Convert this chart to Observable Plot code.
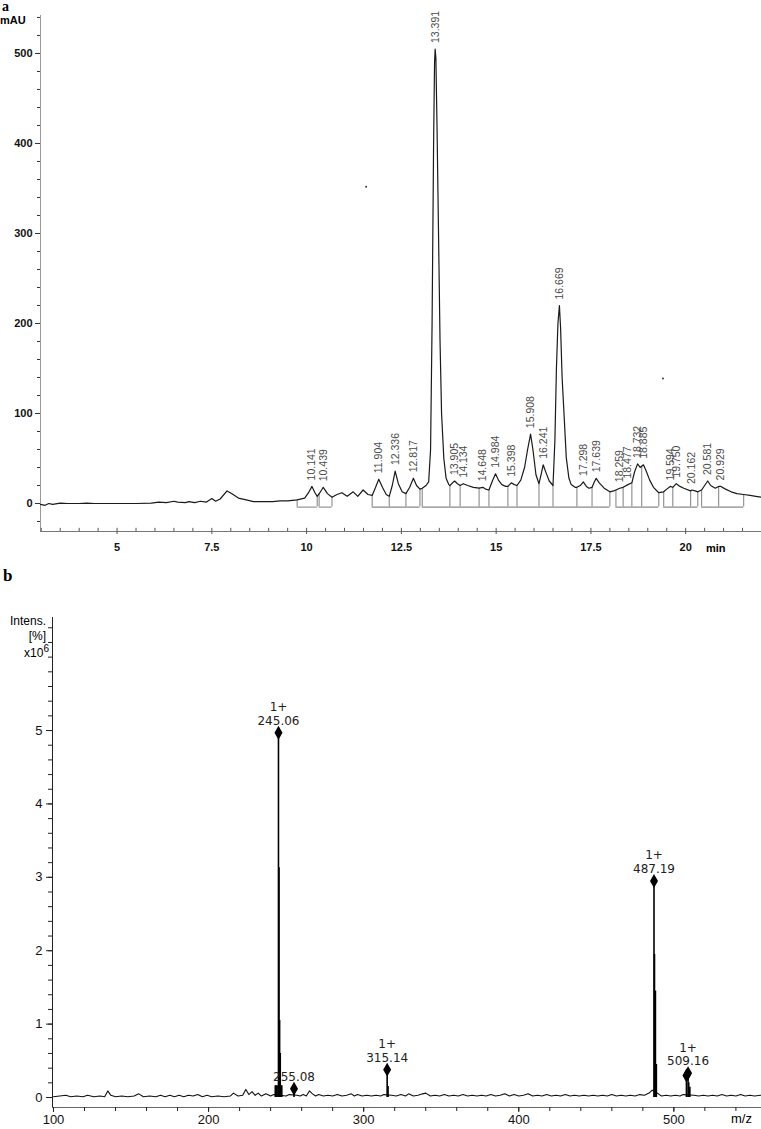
<!DOCTYPE html>
<html>
<head>
<meta charset="utf-8">
<script src="https://cdn.jsdelivr.net/npm/d3@7"></script>
<script src="https://cdn.jsdelivr.net/npm/@observablehq/plot@0.6"></script>
<style>
  html, body { margin: 0; padding: 0; background: #fff; }
  #wrap { position: relative; width: 761px; height: 1129px; overflow: hidden; font-family: "Liberation Sans", Arial, sans-serif; }
  .abs { position: absolute; white-space: nowrap; line-height: 1; }
  .panel { position: absolute; left: 0; }
</style>
</head>
<body>
<div id="wrap">
  <div id="top" class="panel" style="top:0"></div>
  <div id="bottom" class="panel" style="top:560px"></div>
  <div class="abs" style="left:2px;top:0px;font:bold 14px 'Liberation Serif',serif;line-height:14px;">a</div>
  <div class="abs" style="left:3px;top:566px;font:bold 17px 'Liberation Serif',serif;">b</div>
  <div class="abs" style="left:0px;top:14px;font:bold 11px 'Liberation Sans',Arial,sans-serif;">mAU</div>
  <div class="abs" style="left:706px;top:542px;font:bold 11px 'Liberation Sans',Arial,sans-serif;">min</div>
  <div class="abs" style="right:715px;top:614px;font:12px 'Liberation Sans',Arial,sans-serif;text-align:right;">Intens.</div>
  <div class="abs" style="right:715px;top:629px;font:12px 'Liberation Sans',Arial,sans-serif;text-align:right;">[%]</div>
  <div class="abs" style="right:712px;top:643px;font:12px 'Liberation Sans',Arial,sans-serif;text-align:right;">x10<sup style="font-size:10px;vertical-align:5px;">6</sup></div>
  <div class="abs" style="left:731px;top:1111px;font:13px 'Liberation Sans',Arial,sans-serif;">m/z</div>
</div>
<script>
// ---------- Panel a: HPLC chromatogram ----------
const chromTime = [2.98,3.1,3.2,3.3,3.5,3.7,4.0,4.2,4.4,5.0,5.5,5.9,6.1,6.3,6.5,6.6,6.8,6.9,7.05,7.2,7.35,7.5,7.6,7.72,7.9,8.02,8.2,8.35,8.6,8.9,9.1,9.3,9.5,9.75,9.95,10.05,10.141,10.22,10.28,10.35,10.439,10.55,10.67,10.8,10.93,11.07,11.23,11.35,11.49,11.62,11.73,11.82,11.904,12.0,12.1,12.18,12.26,12.336,12.42,12.52,12.62,12.72,12.817,12.9,12.99,13.05,13.15,13.22,13.27,13.31,13.35,13.375,13.391,13.41,13.44,13.48,13.52,13.56,13.62,13.68,13.75,13.78,13.85,13.905,13.98,14.05,14.134,14.25,14.4,14.55,14.648,14.72,14.81,14.9,14.984,15.06,15.15,15.25,15.31,15.398,15.48,15.55,15.65,15.75,15.83,15.908,15.97,16.05,16.13,16.19,16.241,16.3,16.4,16.5,16.55,16.59,16.63,16.669,16.7,16.74,16.79,16.85,16.92,16.98,17.08,17.13,17.22,17.298,17.38,17.45,17.53,17.58,17.639,17.72,17.85,18.0,18.1,18.16,18.259,18.35,18.477,18.58,18.65,18.732,18.8,18.885,18.95,19.05,19.15,19.29,19.42,19.5,19.594,19.66,19.75,19.85,19.95,20.13,20.162,20.25,20.32,20.42,20.5,20.581,20.66,20.78,20.87,20.929,21.05,21.2,21.35,21.53,21.7,21.85,22.0];
const chromAbs  = [-1,-2,0,-1,0.5,0,0,0.5,0,0,0,0.5,1.5,1,2.5,1.5,1,2,1,2.5,1.5,5.5,2.5,5,14,11,6,4.5,2,2,2,3,3,4,6,12,19,12,8,12,18,11,7,10,12,8,13,8,15,10,9,18,27,18,10,8,20,36,22,13,11,18,28,20,16,17,20,24,60,200,400,490,505,495,420,300,180,100,50,28,21,20,23,25,22,20,22,20,18,17,18,16,15,25,33,26,21,19,19,23,21,20,26,40,60,77,60,32,22,33,43,36,25,20,70,150,200,220,195,140,100,51,28,21,18,18,20,24,19,17,18,23,28,23,17,13,14,15,17,18,21,23,35,44,40,43,37,26,18,12,13,16,19,18,22,19,17,14,15,14,13,15,20,25,20,17,19,19,16,13,11,10,9,8,7];

const peakTimes  = [10.141,10.439,11.904,12.336,12.817,13.391,13.905,14.134,14.648,14.984,15.398,15.908,16.241,16.669,17.298,17.639,18.259,18.477,18.732,18.885,19.594,19.75,20.162,20.581,20.929];
const peakLabels = ["10.141","10.439","11.904","12.336","12.817","13.391","13.905","14.134","14.648","14.984","15.398","15.908","16.241","16.669","17.298","17.639","18.259","18.477","18.732","18.885","19.594","19.750","20.162","20.581","20.929"];

const segStart = [9.75,10.33,11.73,13.05,18.16,19.42,20.42];
const segEnd   = [10.28,10.67,12.99,18.00,19.29,20.32,21.53];
const dropTimes = [9.75,10.28,10.33,10.67,11.73,12.18,12.62,12.99,13.05,13.78,14.05,14.55,14.81,15.31,15.55,16.13,16.50,17.13,17.53,18.00,18.16,18.35,18.58,18.84,19.29,19.42,19.66,20.13,20.32,20.42,20.87,21.53];
const baseLevel = -4;

const strayTime = [11.57, 19.4];
const strayAbs  = [352, 139];

const yMajorA = [0,100,200,300,400,500];
const yMinorA = [-20,0,20,40,60,80,100,120,140,160,180,200,220,240,260,280,300,320,340,360,380,400,420,440,460,480,500,520,540];
const xMajorA = [5,7.5,10,12.5,15,17.5,20];
const xMajorLabelsA = ["5","7.5","10","12.5","15","17.5","20"];
const xMinorA = [3,3.5,4,4.5,5,5.5,6,6.5,7,7.5,8,8.5,9,9.5,10,10.5,11,11.5,12,12.5,13,13.5,14,14.5,15,15.5,16,16.5,17,17.5,18,18.5,19,19.5,20,20.5,21,21.5];

// ---------- Panel b: mass spectrum ----------
const noiseMz  = [100,104,108,111,115,119,122,126,130,133,135,137,140,144,148,152,155,158,162,166,169,172,175,178,181,184,187,190,193,196,199,202,206,210,214,216,219,222,224,226,228,230,232,234,237,240,242,250,252,257,259,261,263,265,267,269,271,274,277,280,283,286,289,292,294,296,299,302,305,308,311,313,318,321,324,327,329,332,335,338,340,343,346,349,352,355,358,361,364,367,370,373,376,379,382,385,388,391,394,397,400,403,406,409,412,415,418,421,424,427,430,433,436,439,442,445,448,451,454,457,460,463,466,469,472,475,478,481,484,486,490,492,495,498,501,504,506,513,516,519,522,525,528,531,534,537,540,543,546,549,552,556];
const noiseInt = [0.01,0.02,0.03,0.01,0.02,0.01,0.03,0.01,0.02,0.01,0.09,0.03,0.01,0.02,0.01,0.02,0.05,0.01,0.02,0.01,0.03,0.01,0.03,0.01,0.03,0.01,0.03,0.02,0.04,0.01,0.03,0.01,0.02,0.01,0.02,0.06,0.02,0.03,0.11,0.04,0.08,0.03,0.06,0.02,0.05,0.02,0.04,0.02,0.04,0.03,0.02,0.04,0.02,0.09,0.05,0.02,0.04,0.02,0.03,0.02,0.04,0.02,0.03,0.05,0.02,0.04,0.02,0.03,0.02,0.03,0.02,0.04,0.03,0.02,0.04,0.02,0.05,0.02,0.03,0.05,0.06,0.02,0.03,0.02,0.04,0.02,0.03,0.02,0.04,0.02,0.03,0.02,0.03,0.02,0.04,0.02,0.03,0.05,0.02,0.04,0.02,0.03,0.05,0.02,0.03,0.02,0.04,0.02,0.03,0.02,0.04,0.02,0.03,0.02,0.03,0.02,0.03,0.02,0.03,0.02,0.04,0.02,0.03,0.02,0.03,0.02,0.04,0.03,0.06,0.10,0.05,0.02,0.03,0.02,0.03,0.02,0.04,0.03,0.02,0.03,0.02,0.03,0.02,0.04,0.02,0.03,0.02,0.04,0.02,0.03,0.02,0.03];

const stickMz  = [243.0,243.6,244.2,245.06,245.4,245.8,246.2,246.6,247.2,255.08,315.14,315.7,487.19,487.5,488.1,488.7,508.1,509.16,509.6,510.3];
const stickInt = [0.16,0.16,0.16,4.97,3.13,1.05,0.6,0.16,0.16,0.12,0.38,0.15,2.95,1.95,1.45,0.45,0.30,0.33,0.2,0.14];

const labelMz     = [245.06,255.08,315.14,487.19,509.16];
const labelInt    = [4.97,0.12,0.38,2.95,0.33];
const labelCharge = ["1+","","1+","1+","1+"];
const labelText   = ["245.06","255.08","315.14","487.19","509.16"];
const extraDiamondMz = [508.1];
const extraDiamondInt = [0.30];

const yMajorB = [0,1,2,3,4,5];
const yMinorB = [0,0.2,0.4,0.6,0.8,1,1.2,1.4,1.6,1.8,2,2.2,2.4,2.6,2.8,3,3.2,3.4,3.6,3.8,4,4.2,4.4,4.6,4.8,5,5.2,5.4,5.6,5.8,6,6.2,6.4];
const xMajorB = [100,200,300,400,500];
const xMinorB = [100,120,140,160,180,200,220,240,260,280,300,320,340,360,380,400,420,440,460,480,500,520,540];

// ---------- build panel a ----------
const chrom = chromTime.map((t, i) => ({t, v: chromAbs[i]}));
const traceAt = d3.scaleLinear().domain(chromTime).range(chromAbs);
const peaks = peakTimes.map((t, i) => ({t, v: traceAt(t), label: peakLabels[i]}));
const segs = segStart.map((s, i) => ({s, e: segEnd[i]}));
const drops = dropTimes.map(t => ({t, top: traceAt(t)}));
const strays = strayTime.map((t, i) => ({t, v: strayAbs[i]}));

const xDomA = [2.98, 22];
const yDomA = [-31.1, 542.2];

const plotA = Plot.plot({
  width: 761, height: 560,
  marginLeft: 40, marginRight: 0, marginTop: 15, marginBottom: 29,
  style: {fontFamily: "'Liberation Sans', Arial, sans-serif", background: "transparent"},
  x: {domain: xDomA, axis: null, label: null},
  y: {domain: yDomA, axis: null, label: null},
  marks: [
    Plot.ruleX([xDomA[0]], {stroke: "#999", strokeWidth: 1}),
    Plot.axisY(yMinorA, {tickSize: 3, tickFormat: () => "", stroke: "#333", label: null}),
    Plot.axisY(yMajorA, {tickSize: 5, tickPadding: 3, tickFormat: d => String(d), fontSize: 11, fontWeight: "bold", stroke: "#333", fill: "#111", label: null}),
    Plot.ruleY([yDomA[0]], {stroke: "#777", strokeWidth: 1}),
    Plot.ruleX(xMinorA, {y1: yDomA[0], y2: yDomA[0] + 3.5, stroke: "#555"}),
    Plot.axisX(xMajorA, {tickSize: 3, tickPadding: 9, tickFormat: (d, i) => xMajorLabelsA[i], fontSize: 11, fontWeight: "bold", stroke: "#555", fill: "#111", label: null}),
    Plot.ruleY(segs, {y: () => baseLevel, x1: "s", x2: "e", stroke: "#8a8a8a", strokeWidth: 1.1}),
    Plot.ruleX(drops, {x: "t", y1: () => baseLevel, y2: "top", stroke: "#8a8a8a", strokeWidth: 1.1}),
    Plot.line(chrom, {x: "t", y: "v", stroke: "#1a1a1a", strokeWidth: 1.2}),
    Plot.dot(strays, {x: "t", y: "v", r: 1, fill: "#333", stroke: null}),
    Plot.text(peaks, {x: "t", y: "v", text: "label", rotate: -90, textAnchor: "start", dy: -6, fontSize: 10.5, fill: "#4a4a4a"})
  ]
});
document.getElementById("top").appendChild(plotA);

// ---------- build panel b ----------
const noise = noiseMz.map((m, i) => ({m, v: noiseInt[i]}));
const sticks = stickMz.map((m, i) => ({m, v: stickInt[i]}));
const labels = labelMz.map((m, i) => ({m, v: labelInt[i], txt: labelCharge[i] ? labelCharge[i] + "\n" + labelText[i] : labelText[i]}));
const extra = extraDiamondMz.map((m, i) => ({m, v: extraDiamondInt[i]}));

const xDomB = [99.36, 556.5];
const yDomB = [-0.136, 6.54];

const plotB = Plot.plot({
  width: 761, height: 569,
  marginLeft: 52, marginRight: 0, marginTop: 57, marginBottom: 22,
  style: {fontFamily: "'Liberation Sans', Arial, sans-serif", background: "transparent"},
  x: {domain: xDomB, axis: null, label: null},
  y: {domain: yDomB, axis: null, label: null},
  marks: [
    Plot.ruleX([xDomB[0]], {stroke: "#222", strokeWidth: 1}),
    Plot.axisY(yMinorB, {tickSize: 4, tickFormat: () => "", stroke: "#222", label: null}),
    Plot.axisY(yMajorB, {tickSize: 6, tickPadding: 4, tickFormat: d => String(d), fontSize: 13, stroke: "#222", fill: "#111", label: null}),
    Plot.ruleY([yDomB[0]], {stroke: "#666", strokeWidth: 1}),
    Plot.axisX(xMinorB, {tickSize: 4, tickFormat: () => "", stroke: "#222", label: null}),
    Plot.axisX(xMajorB, {tickSize: 5, tickPadding: 2, tickFormat: d => String(d), fontSize: 13, stroke: "#222", fill: "#111", label: null}),
    Plot.line(noise, {x: "m", y: "v", stroke: "#111", strokeWidth: 1.1}),
    Plot.ruleX(sticks, {x: "m", y1: () => 0, y2: "v", stroke: "#000", strokeWidth: 1.6}),
    Plot.dot(labels, {x: "m", y: "v", symbol: "diamond", r: 4.2, fill: "#000", stroke: null}),
    Plot.dot(extra, {x: "m", y: "v", symbol: "diamond", r: 4.2, fill: "#000", stroke: null}),
    Plot.text(labels, {x: "m", y: "v", text: "txt", lineAnchor: "bottom", dy: -8, fontSize: 12, lineHeight: 1.15, fontFamily: "'DejaVu Sans', Verdana, sans-serif", fill: "#222"})
  ]
});
document.getElementById("bottom").appendChild(plotB);
</script>
</body>
</html>
